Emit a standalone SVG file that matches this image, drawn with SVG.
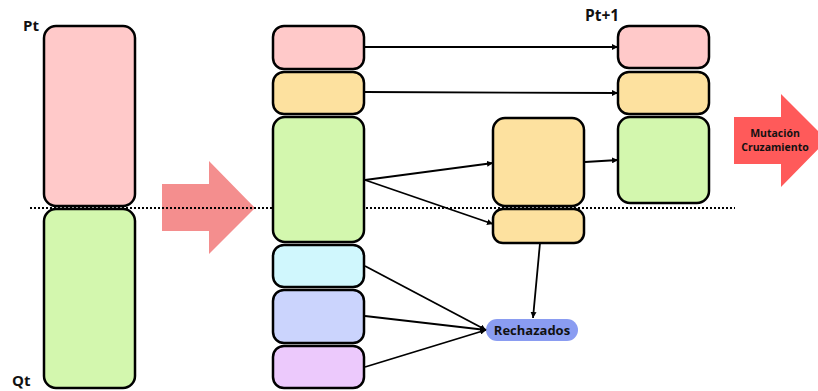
<svg xmlns="http://www.w3.org/2000/svg" width="818" height="391" viewBox="0 0 818 391">
<defs>
<style>
.b{stroke:#000;stroke-width:2.5}
.pk{fill:#ffc9c9}.or{fill:#fde19f}.gr{fill:#d3f7ae}.cy{fill:#d0f7fd}.bl{fill:#cbd4fd}.pu{fill:#ecc9fc}
.lbl{font-family:"Open Sans","Liberation Sans",sans-serif;font-weight:bold;fill:#111}
.c{stroke:#000;stroke-width:1.8;fill:none;marker-end:url(#ah)}
</style>
<marker id="ah" viewBox="0 0 10 10" refX="10" refY="5" markerWidth="6" markerHeight="6" orient="auto" markerUnits="userSpaceOnUse">
<path d="M0,0 L10,5 L0,10 z" fill="#000"/>
</marker>
</defs>
<rect width="818" height="391" fill="#fff"/>
<g id="pt"><rect class="b pk" x="44" y="26" width="91" height="180" rx="12"/><text class="lbl" x="23" y="31" font-size="15">Pt</text></g>
<g id="qt"><rect class="b gr" x="44" y="209" width="91" height="179" rx="12"/><text class="lbl" x="12" y="386" font-size="15">Qt</text></g>
<g id="bigarrow"><path d="M162,184 H209 V161 L255,208 L209,254 V231 H162 z" fill="#f48e8e"/></g>
<line x1="30" y1="208" x2="735" y2="208" stroke="#000" stroke-width="2" stroke-dasharray="2,2"/>
<g id="m1"><rect class="b pk" x="273" y="26" width="91" height="43" rx="11"/></g>
<g id="m2"><rect class="b or" x="273" y="72" width="91" height="42" rx="11"/></g>
<g id="m3"><rect class="b gr" x="273" y="117" width="91" height="125" rx="12"/></g>
<g id="m4"><rect class="b cy" x="273" y="245" width="91" height="42" rx="11"/></g>
<g id="m5"><rect class="b bl" x="273" y="290" width="91" height="53" rx="11"/></g>
<g id="m6"><rect class="b pu" x="273" y="346" width="91" height="42" rx="11"/></g>
<g id="o1"><rect class="b or" x="493" y="118" width="91" height="88" rx="12"/></g>
<g id="o2"><rect class="b or" x="493" y="209" width="91" height="34" rx="10"/></g>
<g id="r1"><rect class="b pk" x="618" y="26" width="91" height="42" rx="11"/><text class="lbl" x="585" y="21" font-size="15.5">Pt+1</text></g>
<g id="r2"><rect class="b or" x="618" y="72" width="91" height="42" rx="11"/></g>
<g id="r3"><rect class="b gr" x="618" y="117" width="91" height="86" rx="12"/></g>
<g id="mut"><path d="M734,117 H781 V94 L827,140 L781,187 V164 H734 z" fill="#ff5a5a"/>
<text class="lbl" x="775" y="137" font-size="10.5" text-anchor="middle">Mutación</text>
<text class="lbl" x="775" y="151" font-size="10.5" text-anchor="middle">Cruzamiento</text></g>
<g id="rech"><rect x="486" y="319" width="92" height="22" rx="11" fill="#8a9cf1"/><text class="lbl" x="532" y="335" font-size="13" text-anchor="middle">Rechazados</text></g>
<g id="connectors">
<path class="c" d="M365,47 L618,47"/>
<path class="c" d="M365,92 L618,93"/>
<path class="c" d="M365,180 L493,163"/>
<path class="c" d="M365,180 L493,224"/>
<path class="c" d="M585,162 L618,160"/>
<path class="c" d="M540,243 L533,318"/>
<path class="c" d="M365,266 L486,330"/>
<path class="c" d="M365,316 L486,330"/>
<path class="c" d="M365,367 L486,330"/>
</g>
</svg>
